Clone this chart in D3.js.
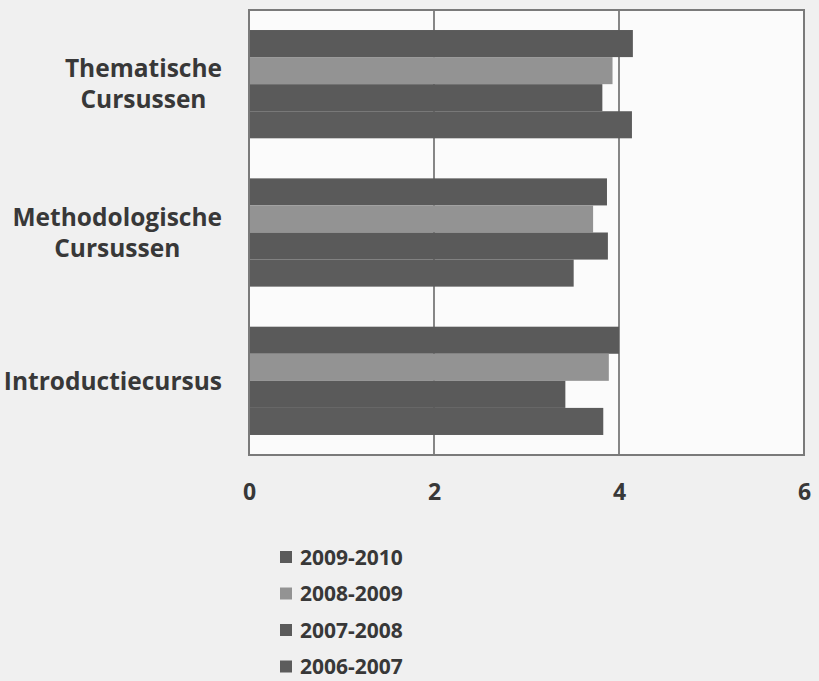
<!DOCTYPE html>
<html>
<head>
<meta charset="utf-8">
<script src="https://cdn.jsdelivr.net/npm/d3@7"></script>
<style>
  html, body { margin: 0; padding: 0; background: #f0f0f0; }
  svg { display: block; }
</style>
</head>
<body>
<svg id="chart" width="819" height="681"></svg>
<script>
const categories = [["Thematische", "Cursussen"], ["Methodologische", "Cursussen"], ["Introductiecursus"]];
const categoryKeys = ["Thematische Cursussen", "Methodologische Cursussen", "Introductiecursus"];
const seriesNames = ["2009-2010", "2008-2009", "2007-2008", "2006-2007"];
const values2009_2010 = [4.15, 3.87, 4.00];
const values2008_2009 = [3.93, 3.72, 3.89];
const values2007_2008 = [3.82, 3.88, 3.42];
const values2006_2007 = [4.14, 3.51, 3.83];
const xTicks = [0, 2, 4, 6];

const seriesValues = [values2009_2010, values2008_2009, values2007_2008, values2006_2007];
const colors = ["#5a5a5a", "#939393", "#5a5a5a", "#5c5c5c"];
const textColor = "#383838";
const font = "'Open Sans', Lato, sans-serif";

const svg = d3.select("#chart");
const mLeft = 249, mRight = 804, mTop = 10, mBottom = 455;

const x = d3.scaleLinear().domain([0, 6]).range([mLeft, mRight]);
const y0 = d3.scaleBand().domain(categoryKeys).range([mTop, mBottom]).paddingInner(0.27).paddingOuter(0.135);
const y1 = d3.scaleBand().domain(seriesNames).range([0, y0.bandwidth()]);

// plot background
svg.append("rect").attr("x", mLeft).attr("y", mTop).attr("width", mRight - mLeft).attr("height", mBottom - mTop)
  .attr("fill", "#fbfbfb");

// gridlines
svg.append("g").selectAll("line").data(xTicks.filter(d => d > 0 && d < 6)).join("line")
  .attr("x1", d => x(d)).attr("x2", d => x(d)).attr("y1", mTop).attr("y2", mBottom)
  .attr("stroke", "#6a6a6a").attr("stroke-width", 1.6);

// bars
const groups = svg.append("g").selectAll("g").data(categoryKeys).join("g")
  .attr("transform", d => `translate(0,${y0(d)})`);
groups.selectAll("rect").data((d, i) => seriesNames.map((s, j) => ({ s, j, v: seriesValues[j][i] })))
  .join("rect")
  .attr("x", x(0)).attr("y", d => y1(d.s)).attr("height", y1.bandwidth())
  .attr("width", d => x(d.v) - x(0))
  .attr("fill", d => colors[d.j]);

// frame
svg.append("rect").attr("x", mLeft).attr("y", mTop).attr("width", mRight - mLeft).attr("height", mBottom - mTop)
  .attr("fill", "none").attr("stroke", "#7a7a7a").attr("stroke-width", 2);

// x axis labels
const xAxis = d3.axisBottom(x).tickValues(xTicks).tickSize(0).tickPadding(0).tickFormat(d3.format("d"));
const gx = svg.append("g").attr("transform", `translate(0,${mBottom + 28})`).call(xAxis);
gx.select(".domain").remove();
gx.selectAll("text").attr("font-family", font).attr("font-weight", "bold").attr("font-size", 23)
  .attr("fill", textColor).attr("dy", "0.72em");

// category labels (block right-aligned, lines centered)
const labelRight = 222;
const lineGap = 31;
categoryKeys.forEach((key, i) => {
  const lines = categories[i];
  const cy = y0(key) + y0.bandwidth() / 2;
  const g = svg.append("g");
  const texts = g.selectAll("text").data(lines).join("text")
    .attr("font-family", font).attr("font-weight", "bold").attr("font-size", 24.5)
    .attr("fill", textColor).attr("text-anchor", "middle")
    .attr("y", (d, k) => cy + (k - (lines.length - 1) / 2) * lineGap)
    .attr("dy", "0.36em")
    .text(d => d);
  const maxW = d3.max(texts.nodes(), n => n.getComputedTextLength());
  texts.attr("x", labelRight - maxW / 2);
});

// legend
const legend = svg.append("g").attr("transform", "translate(280,557)");
const items = legend.selectAll("g").data(seriesNames).join("g")
  .attr("transform", (d, i) => `translate(0,${i * 36.5})`);
items.append("rect").attr("x", 0).attr("y", -6).attr("width", 12).attr("height", 12)
  .attr("fill", (d, i) => colors[i]);
items.append("text").attr("x", 20).attr("dy", "0.36em")
  .attr("font-family", font).attr("font-weight", "bold").attr("font-size", 21)
  .attr("fill", textColor).text(d => d);
</script>
</body>
</html>
